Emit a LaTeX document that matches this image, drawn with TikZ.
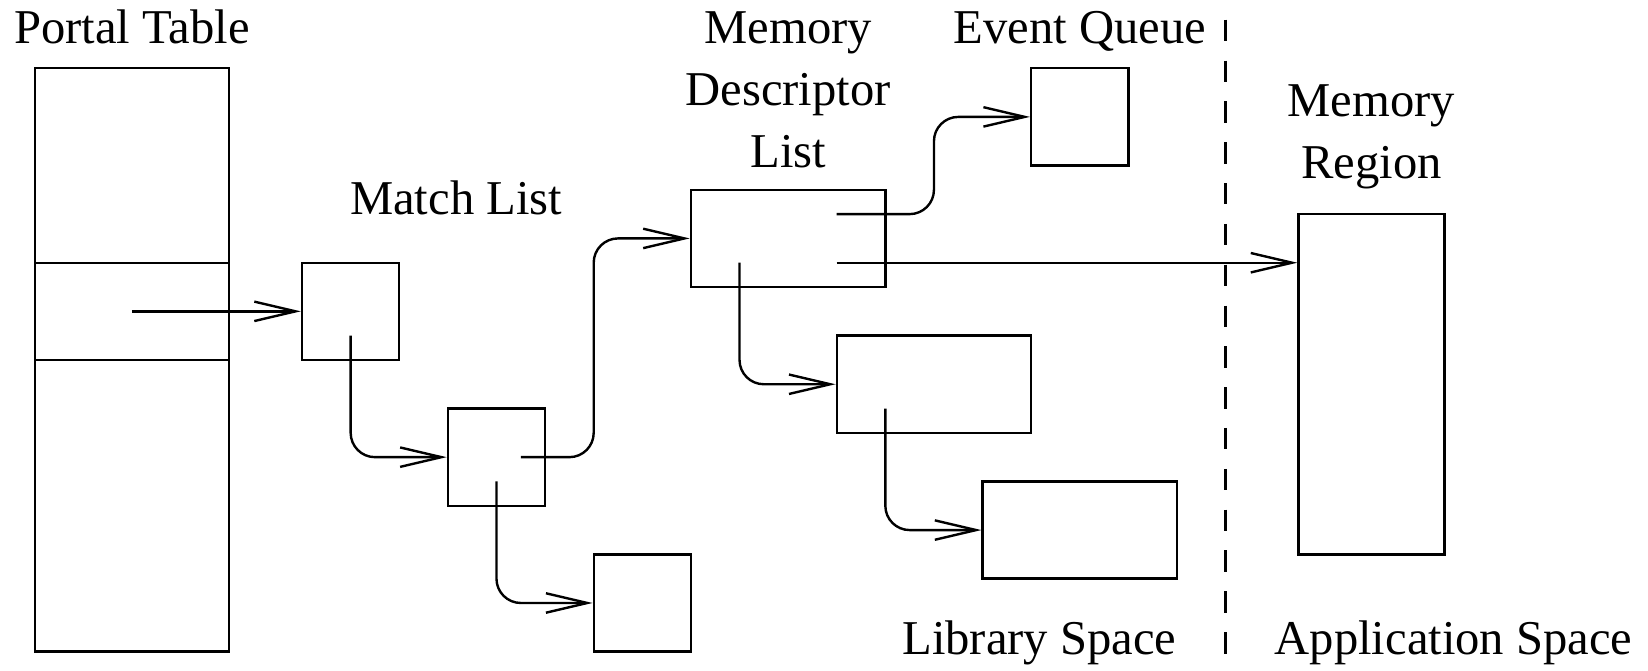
\documentclass[tikz,border=0pt]{standalone}
\usepackage{fontspec}
\setmainfont{Liberation Serif}
\usetikzlibrary{arrows.meta}
\newcommand\lblfont{\fontsize{28.45}{36}\selectfont}

\begin{document}
\begin{tikzpicture}[x=1cm, y=-1cm,
  box/.style={draw, line width=1.4pt, inner sep=0pt, minimum width=#1cm, minimum height=2cm},
  box/.default=2,
  tallbox/.style={draw, line width=1.4pt, inner sep=0pt},
  ptr/.style={line width=1.4pt, rounded corners=0.5cm,
    -{Straight Barb[length=0.85cm, width=0.4cm, line width=1.4pt]}},
  lbl/.style={font=\lblfont, anchor=base, inner sep=0pt},
  divider/.style={line width=1.4pt, dash pattern=on 0.44cm off 0.4cm}]

\useasboundingbox (-0.714,-1.405) rectangle (33.19,12.389);

% portal table with its selected entry
\node[tallbox, minimum width=4cm, minimum height=12cm] (pt) at (2,6) {};
\node[box=4] (pe) at (2,5) {};

% match list entries
\node[box] (m1) at (6.5,5) {};
\node[box] (m2) at (9.5,8) {};
\node[box] (m3) at (12.5,11) {};

% memory descriptor list
\node[box=4] (md1) at (15.5,3.5) {};
\node[box=4] (md2) at (18.5,6.5) {};
\node[box=4] (md3) at (21.5,9.5) {};

% event queue
\node[box] (eq) at (21.5,1) {};

% memory region
\node[tallbox, minimum width=3cm, minimum height=7cm] (mr) at (27.5,6.5) {};

% pointer origins inside the boxes
\coordinate (m1s) at ([yshift=-0.5cm]m1.center);
\coordinate (m2r) at ([xshift=0.5cm]m2.center);
\coordinate (m2d) at ([yshift=-0.5cm]m2.center);
\coordinate (mdq) at ([xshift=1cm, yshift=0.5cm]md1.center);
\coordinate (mdr) at ([xshift=1cm, yshift=-0.5cm]md1.center);
\coordinate (mdd) at ([xshift=-1cm, yshift=-0.5cm]md1.center);
\coordinate (md2d) at ([xshift=-1cm, yshift=-0.5cm]md2.center);

% pointers
\draw[ptr] (pe.center) -- (m1.west);
\draw[ptr] (m1s) |- (m2.west);
\draw[ptr] (m2r) -- ++(1.5,0) |- (md1.west);
\draw[ptr] (m2d) |- (m3.west);
\draw[ptr] (mdq) -- ++(2,0) |- (eq.west);
\draw[ptr] (mdr) -- (mdr -| mr.west);
\draw[ptr] (mdd) |- (md2.west);
\draw[ptr] (md2d) |- (md3.west);

% library / application boundary
\coordinate (dtop) at (24.5,-1);
\coordinate (dbot) at (24.5,12.25);
\draw[divider] (dtop) -- (dbot);

% labels
\node[lbl] (lpt) at (2,-0.5) {Portal Table};
\node[lbl] (lml) at (8.67,3.0) {Match List};
\node[lbl] (lmd1) at (15.5,-0.5) {Memory};
\node[lbl] (lmd2) at (15.5,0.77) {Descriptor};
\node[lbl] (lmd3) at (15.5,2.04) {List};
\node[lbl] (leq) at (21.5,-0.5) {Event Queue};
\node[lbl] (lmr1) at (27.5,1.0) {Memory};
\node[lbl] (lmr2) at (27.5,2.26) {Region};
\node[lbl] (lls) at (20.67,12.05) {Library Space};
\node[lbl] (las) at (29.19,12.05) {Application Space};
\end{tikzpicture}
\end{document}
